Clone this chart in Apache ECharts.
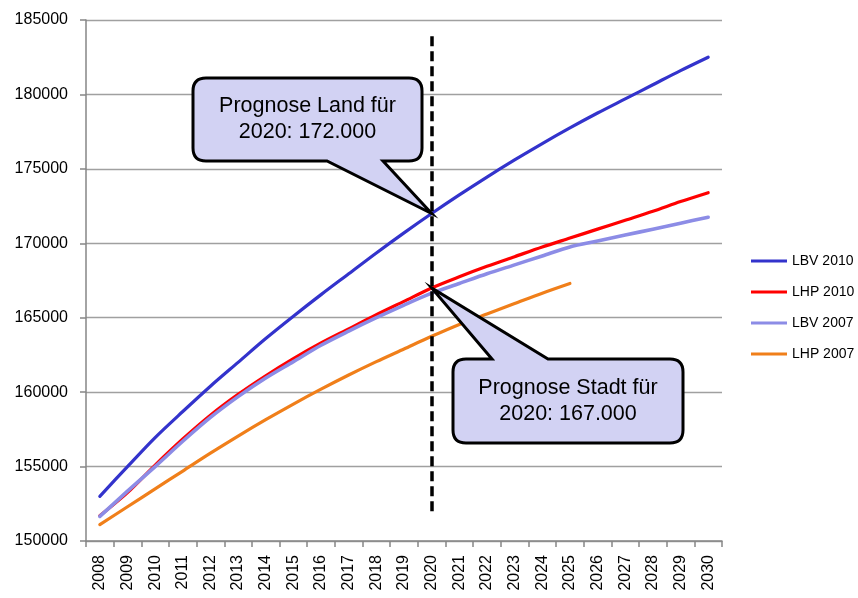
<!DOCTYPE html>
<html>
<head>
<meta charset="utf-8">
<title>Bevölkerungsprognose 2008–2030</title>
<script src="https://cdn.jsdelivr.net/npm/echarts@6/dist/echarts.min.js"></script>
<style>
  html, body { margin: 0; padding: 0; background: #ffffff; }
  #chart { width: 858px; height: 598px; }
</style>
</head>
<body>
<div id="chart"></div>
<script>
// Jahre der Prognose
const years = ['2008', '2009', '2010', '2011', '2012', '2013', '2014', '2015', '2016', '2017', '2018', '2019',
  '2020', '2021', '2022', '2023', '2024', '2025', '2026', '2027', '2028', '2029', '2030'];

// Einwohnerzahlen je Prognosevariante
const lbv2010 = [153000, 155000, 156950, 158700, 160400, 162000, 163600, 165100, 166550, 167950, 169350, 170700,
  172000, 173250, 174450, 175600, 176700, 177750, 178750, 179700, 180650, 181600, 182500];
const lhp2010 = [151700, 153250, 155100, 156850, 158450, 159850, 161100, 162250, 163300, 164250, 165200, 166100,
  167000, 167750, 168450, 169100, 169750, 170350, 170950, 171550, 172150, 172800, 173400];
const lbv2007 = [151650, 153350, 155000, 156700, 158300, 159700, 160950, 162050, 163150, 164100, 165000, 165850,
  166650, 167300, 167950, 168550, 169150, 169750, 170150, 170550, 170950, 171350, 171750];
const lhp2007 = [151100, 152300, 153500, 154700, 155900, 157050, 158150, 159200, 160200, 161150, 162050, 162900,
  163750, 164550, 165250, 165950, 166650, 167300, null, null, null, null, null];

// Achsenbereich
const yMin = 150000, yMax = 185000, yStep = 5000;

// Stichjahr der Markierung
const markYear = '2020';
const markIdx = years.indexOf(markYear);

const FONT = '"Liberation Sans", Arial, sans-serif';

function fmtDe(v) {
  return String(v).replace(/\B(?=(\d{3})+(?!\d))/g, '.');
}

// Sprechblasen: Kasten in Pixeln, Spitze auf dem Datenpunkt
const callouts = [
  { label: 'Prognose Land für', value: lbv2010[markIdx], tail: 'bottom',
    box: [193, 78, 422, 161], base: [327, 383] },
  { label: 'Prognose Stadt für', value: lhp2010[markIdx], tail: 'top',
    box: [453, 359, 683, 443], base: [492, 548] }
];

function calloutPath(c, tx, ty) {
  const [x0, y0, x1, y1] = c.box, r = 13;
  const [b0, b1] = c.base;
  let d = 'M' + (x0 + r) + ',' + y0;
  if (c.tail === 'top') d += ' L' + b0 + ',' + y0 + ' L' + tx + ',' + ty + ' L' + b1 + ',' + y0;
  d += ' L' + (x1 - r) + ',' + y0 + ' Q' + x1 + ',' + y0 + ' ' + x1 + ',' + (y0 + r);
  d += ' L' + x1 + ',' + (y1 - r) + ' Q' + x1 + ',' + y1 + ' ' + (x1 - r) + ',' + y1;
  if (c.tail === 'bottom') d += ' L' + b1 + ',' + y1 + ' L' + tx + ',' + ty + ' L' + b0 + ',' + y1;
  d += ' L' + (x0 + r) + ',' + y1 + ' Q' + x0 + ',' + y1 + ' ' + x0 + ',' + (y1 - r);
  d += ' L' + x0 + ',' + (y0 + r) + ' Q' + x0 + ',' + y0 + ' ' + (x0 + r) + ',' + y0 + ' Z';
  return d;
}

function calloutSeries(c) {
  return {
    type: 'custom',
    name: c.label,
    z: 10,
    silent: true,
    clip: false,
    data: [[markIdx, c.value]],
    renderItem: function (params, api) {
      const p = api.coord([api.value(0), api.value(1)]);
      const [x0, y0, x1, y1] = c.box;
      return {
        type: 'group',
        children: [
          {
            type: 'path',
            shape: { pathData: calloutPath(c, p[0], p[1]) },
            style: { fill: '#d2d2f3', stroke: '#000000', lineWidth: 3, lineJoin: 'miter' }
          },
          {
            type: 'text',
            style: {
              text: c.label + '\n' + markYear + ': ' + fmtDe(c.value),
              x: (x0 + x1) / 2,
              y: (y0 + y1) / 2,
              align: 'center',
              verticalAlign: 'middle',
              font: '21.5px ' + FONT,
              lineHeight: 26,
              fill: '#000000'
            }
          }
        ]
      };
    }
  };
}

function lineSeries(name, data, color, width) {
  return {
    type: 'line',
    name: name,
    data: data,
    smooth: 0.3,
    showSymbol: false,
    symbol: 'none',
    color: color,
    lineStyle: { color: color, width: width, cap: 'round' },
    emphasis: { disabled: true }
  };
}

const chart = echarts.init(document.getElementById('chart'), null, { renderer: 'canvas' });

const series = [
  lineSeries('LBV 2010', lbv2010, '#3333cc', 3.2),
  lineSeries('LHP 2010', lhp2010, '#ff0000', 3.2),
  lineSeries('LBV 2007', lbv2007, '#8c8ce6', 3.6),
  lineSeries('LHP 2007', lhp2007, '#f07f1a', 3.2),
  calloutSeries(callouts[0]),
  calloutSeries(callouts[1])
];

// gestrichelte Linie beim Stichjahr
series[0].markLine = {
  silent: true,
  symbol: ['none', 'none'],
  label: { show: false },
  lineStyle: { color: '#000000', width: 3.5, type: [10, 5] },
  emphasis: { disabled: true },
  data: [[{ xAxis: markYear, yAxis: 183900 }, { xAxis: markYear, yAxis: 151900 }]]
};

chart.setOption({
  animation: false,
  backgroundColor: '#ffffff',
  grid: { left: 86, right: 136, top: 20, bottom: 57, containLabel: false },
  legend: {
    data: ['LBV 2010', 'LHP 2010', 'LBV 2007', 'LHP 2007'],
    orient: 'vertical',
    left: 751,
    top: 253,
    padding: 0,
    icon: 'rect',
    itemWidth: 36,
    itemHeight: 3,
    itemGap: 15,
    textStyle: { fontFamily: FONT, fontSize: 14, color: '#000000', lineHeight: 16 },
    selectedMode: false
  },
  xAxis: {
    type: 'category',
    data: years,
    boundaryGap: true,
    axisLine: { show: true, lineStyle: { color: '#868686', width: 1.5 } },
    axisTick: { show: true, alignWithLabel: false, interval: 0, length: 6, lineStyle: { color: '#868686', width: 1.5 } },
    axisLabel: { interval: 0, rotate: 90, margin: 14, fontFamily: FONT, fontSize: 16, color: '#000000' },
    splitLine: { show: false }
  },
  yAxis: {
    type: 'value',
    min: yMin,
    max: yMax,
    interval: yStep,
    axisLine: { show: true, lineStyle: { color: '#868686', width: 1.5 } },
    axisTick: { show: true, length: 6, lineStyle: { color: '#868686', width: 1.5 } },
    axisLabel: { margin: 18, fontFamily: FONT, fontSize: 16, color: '#000000', formatter: function (v) { return String(v); } },
    splitLine: { show: true, lineStyle: { color: '#a0a0a0', width: 1.3 } }
  },
  series: series
});
</script>
</body>
</html>
